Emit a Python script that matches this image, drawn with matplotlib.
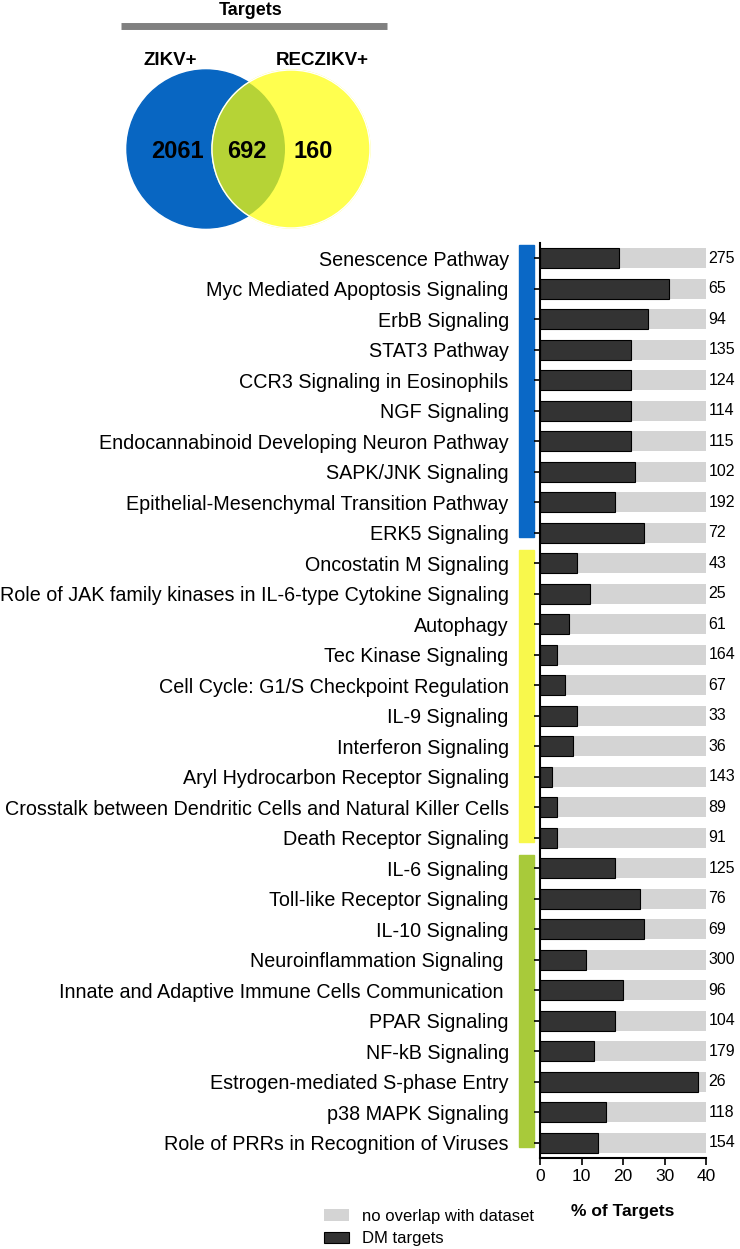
import numpy as np
import matplotlib
matplotlib.use("Agg")
import matplotlib.pyplot as plt
from matplotlib.patches import Circle, Rectangle
import matplotlib.transforms as mtrans

plt.rcParams['font.family'] = ['Liberation Sans', 'DejaVu Sans']

# ── data ───────────────────────────────────────────────────────────────
VENN_SETS = ['ZIKV+', 'RECZIKV+']
VENN_COUNTS = [2061, 692, 160]   # ZIKV only, shared, RECZIKV only

PATHWAYS = [
    'Senescence Pathway', 'Myc Mediated Apoptosis Signaling', 'ErbB Signaling',
    'STAT3 Pathway', 'CCR3 Signaling in Eosinophils', 'NGF Signaling',
    'Endocannabinoid Developing Neuron Pathway', 'SAPK/JNK Signaling',
    'Epithelial-Mesenchymal Transition Pathway', 'ERK5 Signaling',
    'Oncostatin M Signaling', 'Role of JAK family kinases in IL-6-type Cytokine Signaling',
    'Autophagy', 'Tec Kinase Signaling', 'Cell Cycle: G1/S Checkpoint Regulation',
    'IL-9 Signaling', 'Interferon Signaling', 'Aryl Hydrocarbon Receptor Signaling',
    'Crosstalk between Dendritic Cells and Natural Killer Cells', 'Death Receptor Signaling',
    'IL-6 Signaling', 'Toll-like Receptor Signaling', 'IL-10 Signaling',
    'Neuroinflammation Signaling ', 'Innate and Adaptive Immune Cells Communication ',
    'PPAR Signaling', 'NF-kB Signaling', 'Estrogen-mediated S-phase Entry',
    'p38 MAPK Signaling', 'Role of PRRs in Recognition of Viruses',
]
DM_PCT = [19, 31, 26, 22, 22, 22, 22, 23, 18, 25,
          9, 12, 7, 4, 6, 9, 8, 3, 4, 4,
          18, 24, 25, 11, 20, 18, 13, 38, 16, 14]
TOTALS = [275, 65, 94, 135, 124, 114, 115, 102, 192, 72,
          43, 25, 61, 164, 67, 33, 36, 143, 89, 91,
          125, 76, 69, 300, 96, 104, 179, 26, 118, 154]
GROUP_SIZES = [10, 10, 10]
GROUP_COLORS = ['#0a68c6', '#f8f84c', '#a8ca3a']

W, H = 740, 1249
fig = plt.figure(figsize=(W / 100, H / 100), dpi=100)

# ── Venn (pixel-space overlay) ─────────────────────────────────────────
ov = fig.add_axes([0, 0, 1, 1])
ov.set_xlim(0, W); ov.set_ylim(H, 0); ov.axis('off')
r = 79
cb, cy = (206, 149)
cyx = 291
ov.add_patch(Circle((cb, cy), r, color='#0866c2', zorder=1))
ov.add_patch(Circle((cyx, cy), r, color='#ffff4f', zorder=2))
# lens
ov.add_patch(Circle((cb, cy), r, facecolor='#b6d336', edgecolor='none', zorder=3,
                    clip_path=Circle((cyx, cy), r, transform=ov.transData)))
ov.add_patch(Circle((cyx, cy), r, facecolor='none', edgecolor='white', lw=1.0, zorder=4))
ov.text(251, 10, 'Targets', ha='center', va='center', fontsize=13, fontweight='bold')
ov.plot([121, 387], [26, 26], color='#808080', lw=5, solid_capstyle='butt')
ov.text(170, 60, VENN_SETS[0], ha='center', va='center', fontsize=13.5, fontweight='bold')
ov.text(322, 60, VENN_SETS[1], ha='center', va='center', fontsize=13.5, fontweight='bold')
for x, n in zip([177, 247, 313], VENN_COUNTS):
    ov.text(x, 151, str(n), ha='center', va='center', fontsize=17, fontweight='bold', zorder=5)

# ── bar chart ──────────────────────────────────────────────────────────
left, right, top, bot = 540, 706, 243, 1158
ax = fig.add_axes([left / W, 1 - bot / H, (right - left) / W, (bot - top) / H])
y = np.arange(len(PATHWAYS))
dm = np.array(DM_PCT)
ax.barh(y, 100 - dm, left=dm, height=0.64, color='#d4d4d4', label='no overlap with dataset')
ax.barh(y, dm, height=0.64, color='#333333', edgecolor='black', lw=0.8, label='DM targets')
ax.set_xlim(0, 40)
ax.set_ylim(len(PATHWAYS) - 0.5, -0.5)
ax.set_xticks([0, 10, 20, 30, 40])
ax.set_yticks(y)
ax.set_yticklabels(PATHWAYS, fontsize=14.2)
ax.tick_params(axis='y', length=4, width=1.2, pad=18.5)
ax.tick_params(axis='x', length=5, width=1.2, labelsize=12.5, pad=3)
for s in ['top', 'right']:
    ax.spines[s].set_visible(False)
for s in ['left', 'bottom']:
    ax.spines[s].set_linewidth(1.5)
for yi, t in zip(y, TOTALS):
    ax.text(40.6, yi, str(t), ha='left', va='center', fontsize=11.5, clip_on=False)
ax.set_xlabel('% of Targets', fontsize=12.5, fontweight='bold', labelpad=14)

# group colour strips
tr = mtrans.blended_transform_factory(ax.transAxes, ax.transData)
start = 0
for size, col in zip(GROUP_SIZES, GROUP_COLORS):
    ax.add_patch(Rectangle((-0.127, start - 0.45), 0.09, size - 1 + 0.6,
                           transform=tr, color=col, clip_on=False))
    start += size

# legend
handles, labels = ax.get_legend_handles_labels()
fig.legend(handles, labels, loc='upper left', bbox_to_anchor=(317 / W, 1 - 1202 / H),
           frameon=False, fontsize=12, handlelength=1.5, handleheight=0.7,
           labelspacing=0.45, handletextpad=0.8, borderaxespad=0)

fig.savefig('out.png', dpi=100)
